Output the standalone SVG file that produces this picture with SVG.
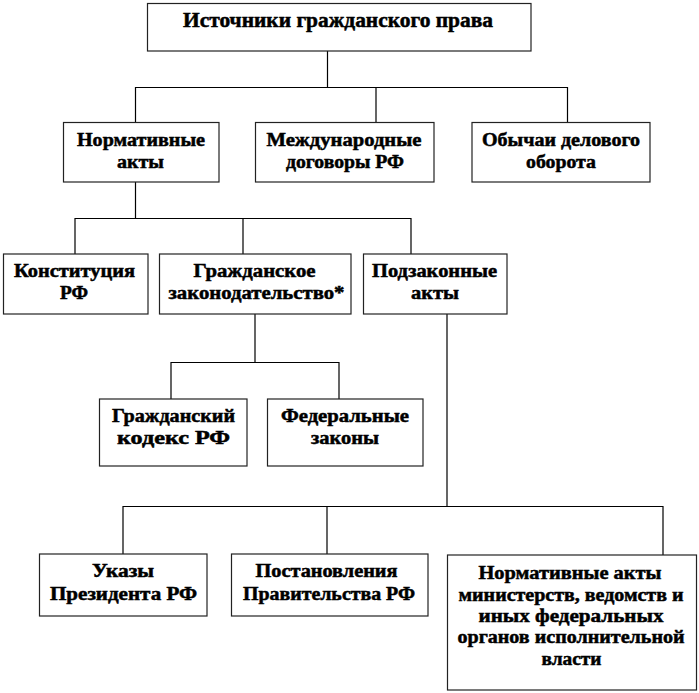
<svg xmlns="http://www.w3.org/2000/svg" width="699" height="693" viewBox="0 0 699 693">
<style>
.box{fill:#fff;stroke:#222;stroke-width:1.2}
text{font-family:'Liberation Serif','Times New Roman',serif;font-weight:bold;font-size:18px;fill:#000;stroke:#000;stroke-width:0.5;text-anchor:middle}
.title{font-size:20px}
.c{fill:none;stroke:#000;stroke-width:1.2}
</style>
<rect width="699" height="693" fill="#fff"/>
<g id="connectors">
<path class="c" d="M327.5 51V87.5M135.5 122.5V87.5H567.5V122.5M376 87.5V122.5"/>
<path class="c" d="M135.5 182V218.5M75 254V218.5H411V254M243 218.5V254"/>
<path class="c" d="M255 314V362.5M171 399V362.5H339V399"/>
<path class="c" d="M447 314V506.5M123 554V506.5H663V555M327 506.5V554"/>
</g>
<g id="n-root"><rect class="box" x="147.5" y="3.5" width="383.5" height="47.5"/><text class="title" x="338" y="27" textLength="310" lengthAdjust="spacingAndGlyphs">Источники  гражданского права</text></g>
<g id="n-normative"><rect class="box" x="63.5" y="122.5" width="155.5" height="59.5"/><text x="141" y="146" textLength="128" lengthAdjust="spacingAndGlyphs">Нормативные</text><text x="140.5" y="167.5" textLength="47" lengthAdjust="spacingAndGlyphs">акты</text></g>
<g id="n-international"><rect class="box" x="255.5" y="122.5" width="178.5" height="59.5"/><text x="344" y="146" textLength="155" lengthAdjust="spacingAndGlyphs">Международные</text><text x="345" y="167.5" textLength="118" lengthAdjust="spacingAndGlyphs">договоры РФ</text></g>
<g id="n-customs"><rect class="box" x="472" y="122.5" width="178" height="59.5"/><text x="561" y="146" textLength="158" lengthAdjust="spacingAndGlyphs">Обычаи делового</text><text x="561" y="167.5" textLength="70" lengthAdjust="spacingAndGlyphs">оборота</text></g>
<g id="n-constitution"><rect class="box" x="3.5" y="254" width="144.5" height="60"/><text x="74.5" y="277" textLength="121" lengthAdjust="spacingAndGlyphs">Конституция</text><text x="74" y="299" textLength="28" lengthAdjust="spacingAndGlyphs">РФ</text></g>
<g id="n-civil-law"><rect class="box" x="159.5" y="254" width="191.5" height="60"/><text x="254.5" y="277" textLength="122" lengthAdjust="spacingAndGlyphs">Гражданское</text><text x="256.5" y="299" textLength="176" lengthAdjust="spacingAndGlyphs">законодательство*</text></g>
<g id="n-bylaws"><rect class="box" x="363.5" y="254" width="143.5" height="60"/><text x="434.5" y="277" textLength="125" lengthAdjust="spacingAndGlyphs">Подзаконные</text><text x="435" y="299" textLength="48" lengthAdjust="spacingAndGlyphs">акты</text></g>
<g id="n-civil-code"><rect class="box" x="99.5" y="399" width="147.5" height="67"/><text x="173.5" y="422" textLength="123" lengthAdjust="spacingAndGlyphs">Гражданский</text><text x="173.5" y="443.5" textLength="113" lengthAdjust="spacingAndGlyphs">кодекс РФ</text></g>
<g id="n-federal-laws"><rect class="box" x="267.5" y="399" width="155.5" height="67"/><text x="345" y="422" textLength="128" lengthAdjust="spacingAndGlyphs">Федеральные</text><text x="345" y="443.5" textLength="68" lengthAdjust="spacingAndGlyphs">законы</text></g>
<g id="n-decrees"><rect class="box" x="39.5" y="554" width="167.5" height="62"/><text x="123" y="577" textLength="62" lengthAdjust="spacingAndGlyphs">Указы</text><text x="123.5" y="600" textLength="147" lengthAdjust="spacingAndGlyphs">Президента РФ</text></g>
<g id="n-resolutions"><rect class="box" x="231.5" y="554" width="196.5" height="62"/><text x="326.5" y="577" textLength="142" lengthAdjust="spacingAndGlyphs">Постановления</text><text x="329" y="600" textLength="172" lengthAdjust="spacingAndGlyphs">Правительства РФ</text></g>
<g id="n-ministries"><rect class="box" x="447.5" y="555" width="249" height="135"/><text x="570" y="579" textLength="183" lengthAdjust="spacingAndGlyphs">Нормативные акты</text><text x="571" y="600.5" textLength="225" lengthAdjust="spacingAndGlyphs">министерств, ведомств и</text><text x="571" y="622" textLength="185" lengthAdjust="spacingAndGlyphs">иных федеральных</text><text x="571" y="643" textLength="227" lengthAdjust="spacingAndGlyphs">органов исполнительной</text><text x="571.5" y="665" textLength="60" lengthAdjust="spacingAndGlyphs">власти</text></g>
</svg>
